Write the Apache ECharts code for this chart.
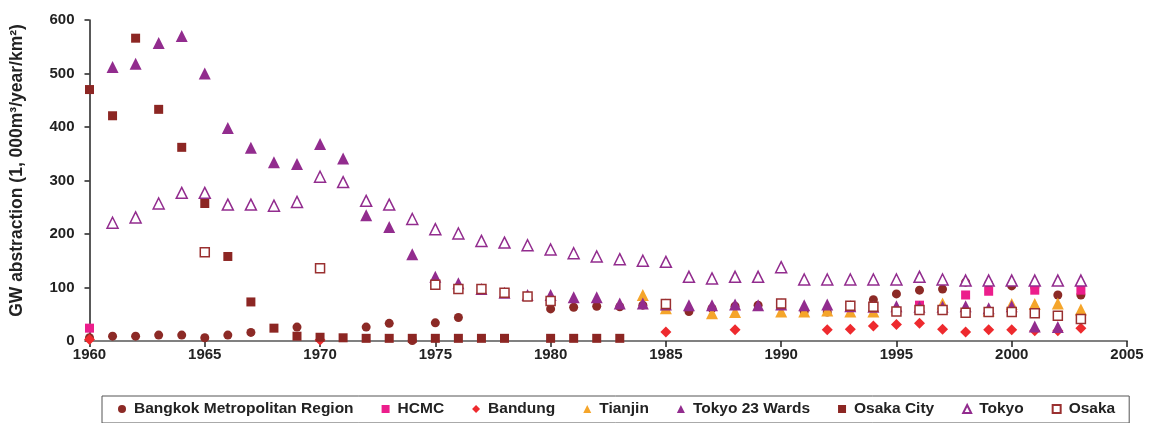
<!DOCTYPE html>
<html>
<head>
<meta charset="utf-8">
<script src="https://cdn.jsdelivr.net/npm/echarts@6/dist/echarts.min.js"></script>
<style>
  html, body { margin: 0; padding: 0; background: #fff; }
  #chart { width: 1149px; height: 423px; }
</style>
</head>
<body>
<div id="chart"></div>
<script>
// years 1960 .. 2003, one value per year (null = no point)
const years = [];
for (let y = 1960; y <= 2003; y++) years.push(y);

const bangkok = [
  6, 9, 9, 11, 11, 6, 11, 16, null, 26,
  null, null, 26, 33, 1, 34, 44, null, null, null,
  60, 63, 65, 64, 67, 60, 55, 61, 65, 67,
  null, 55, 54, null, 77, 88, 95, 97, 110, 107,
  103, 100, 86, 86
];
const hcmc = [
  24, null, null, null, null, null, null, null, null, null,
  null, null, null, null, null, null, null, null, null, null,
  null, null, null, null, null, null, null, null, null, null,
  null, null, null, null, null, null, 67, null, 86, 93,
  null, 95, null, 95
];
const bandung = [
  3, null, null, null, null, null, null, null, null, null,
  2, null, null, null, null, null, null, null, null, null,
  null, null, null, null, null, 17, null, null, 21, null,
  null, null, 21, 22, 28, 31, 33, 22, 17, 21,
  21, 19, 19, 24
];
const tianjin = [
  null, null, null, null, null, null, null, null, null, null,
  null, null, null, null, null, null, null, null, null, null,
  null, null, null, null, 86, 61, null, 52, 54, null,
  55, 55, 57, 55, 55, null, null, 70, null, 57,
  69, 69, 70, 59
];
const tokyo23 = [
  null, 512, 518, 557, 570, 500, 398, 361, 334, 331,
  368, 341, 235, 213, 162, 120, 108, 97, 90, 86,
  86, 82, 82, 70, 70, 68, 67, 67, 68, 67,
  68, 67, 68, 65, 64, 65, 64, 64, 65, 61,
  65, 27, 26, null
];
const osakaCity = [
  470, 421, 566, 433, 362, 257, 158, 73, 24, 9,
  7, 6, 5, 5, 5, 5, 5, 5, 5, null,
  5, 5, 5, 5, null, null, null, null, null, null,
  null, null, null, null, null, null, null, null, null, null,
  null, null, null, null
];
const tokyo = [
  null, 221, 231, 257, 277, 277, 255, 255, 253, 260,
  307, 297, 262, 255, 228, 209, 201, 187, 184, 179,
  171, 164, 158, 153, 150, 148, 120, 117, 120, 120,
  138, 115, 115, 115, 115, 115, 120, 115, 113, 113,
  113, 113, 113, 113
];
const osaka = [
  null, null, null, null, null, 166, null, null, null, null,
  136, null, null, null, null, 105, 97, 97, 90, 83,
  75, null, null, null, null, 69, null, null, null, null,
  70, null, null, 66, 64, 55, 58, 58, 53, 54,
  54, 52, 47, 41
];

const xTicks = [1960, 1965, 1970, 1975, 1980, 1985, 1990, 1995, 2000, 2005];
const yTicks = [0, 100, 200, 300, 400, 500, 600];

const font = "'Liberation Sans', Arial, sans-serif";

function pairs(arr) {
  const out = [];
  arr.forEach((v, i) => { if (v !== null) out.push([years[i], v]); });
  return out;
}

function scatter(name, arr, symbol, size, color, hollow) {
  return {
    name: name,
    type: 'scatter',
    symbol: symbol,
    symbolSize: size,
    itemStyle: hollow
      ? { color: '#ffffff', borderColor: color, borderWidth: 1.5, opacity: 1 }
      : { color: color, opacity: 1 },
    emphasis: { disabled: true },
    data: pairs(arr),
  };
}

const chart = echarts.init(document.getElementById('chart'));
chart.setOption({
  animation: false,
  textStyle: { fontFamily: font },
  grid: { left: 89.5, right: 22, top: 20, bottom: 82 },
  xAxis: {
    type: 'value',
    min: xTicks[0],
    max: xTicks[xTicks.length - 1],
    interval: 5,
    splitLine: { show: false },
    axisLine: { onZero: false, lineStyle: { color: '#808080', width: 2 } },
    axisTick: { show: true, length: 6, lineStyle: { color: '#222', width: 1.5 } },
    axisLabel: {
      color: '#222', fontSize: 15, fontWeight: 'bold', margin: 6, fontFamily: font,
      formatter: (v) => String(v),
    },
  },
  yAxis: {
    type: 'value',
    min: yTicks[0],
    max: yTicks[yTicks.length - 1],
    interval: 100,
    name: 'GW abstraction (1, 000m\u00b3/year/km\u00b2)',
    nameLocation: 'middle',
    nameGap: 63,
    nameTextStyle: {
      color: '#222', fontSize: 17.5, fontWeight: 'bold', fontFamily: font,
      padding: [0, 0, 0, 20],
    },
    splitLine: { show: false },
    axisLine: { show: true, lineStyle: { color: '#222', width: 1.5 } },
    axisTick: { show: true, length: 5, lineStyle: { color: '#222', width: 1.5 } },
    axisLabel: { color: '#222', fontSize: 15, fontWeight: 'bold', margin: 15, fontFamily: font },
  },
  legend: {
    left: 102,
    top: 396,
    padding: [5, 14, 6, 16],
    itemGap: 28,
    itemWidth: 8,
    itemHeight: 8,
    borderColor: '#555',
    borderWidth: 1,
    textStyle: {
      color: '#222', fontSize: 15.5, fontWeight: 'bold', fontFamily: font,
      padding: [0, 0, 0, 3],
    },
    data: ['Bangkok Metropolitan Region', 'HCMC', 'Bandung', 'Tianjin',
      'Tokyo 23 Wards', 'Osaka City', 'Tokyo', 'Osaka'],
  },
  series: [
    scatter('Bangkok Metropolitan Region', bangkok, 'circle', 9, '#8c2a26', false),
    scatter('HCMC', hcmc, 'rect', 9, '#ec1e8c', false),
    scatter('Bandung', bandung, 'diamond', 11, '#ee2a2e', false),
    scatter('Tianjin', tianjin, 'triangle', 12, '#f5a52a', false),
    scatter('Tokyo 23 Wards', tokyo23, 'triangle', 12, '#922c8e', false),
    scatter('Osaka City', osakaCity, 'rect', 9, '#8c2623', false),
    scatter('Tokyo', tokyo, 'triangle', 11, '#922c8e', true),
    scatter('Osaka', osaka, 'rect', 9, '#9a3030', true),
  ],
});
</script>
</body>
</html>
